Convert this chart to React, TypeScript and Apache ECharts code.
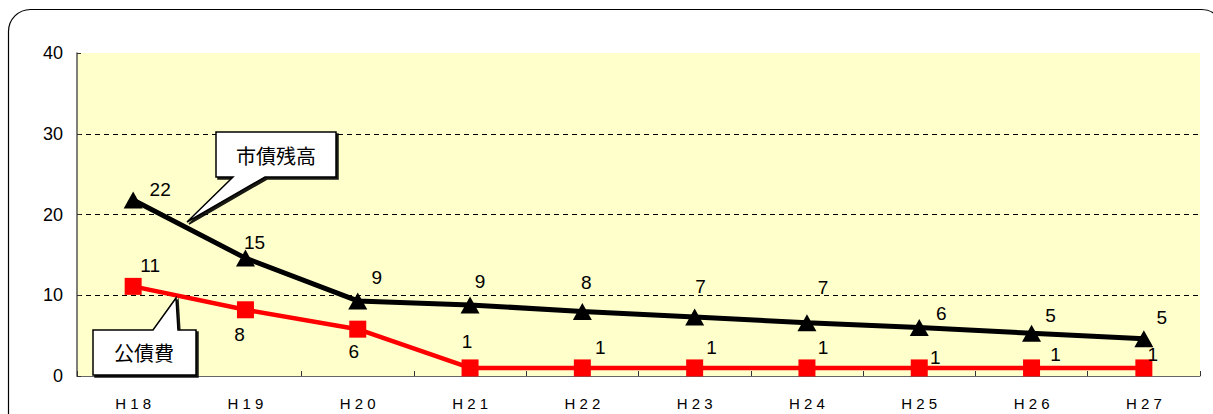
import React, { useEffect, useRef } from "react";
import * as echarts from "echarts";

const categories = ["H18", "H19", "H20", "H21", "H22", "H23", "H24", "H25", "H26", "H27"];
const debtBalance = [21.8, 14.6, 9.3, 8.8, 8.0, 7.3, 6.6, 6.0, 5.3, 4.6];
const debtService = [11.1, 8.2, 5.8, 1.0, 1.0, 1.0, 1.0, 1.0, 1.0, 1.0];
const yTicks = [0, 10, 20, 30, 40];
const balanceName = "市債残高";
const serviceName = "公債費";

// label offsets (style only)
const balanceOffsets: [number, number][] = [
  [27, -10], [9, -16], [19, -23], [10, -23], [4, -29], [6, -31], [16, -35], [22, -14], [19, -18], [18, -21],
];
const serviceOffsets: [number, number][] = [
  [17, -21], [-6, 25], [-4, 22], [-3, -26], [18, -20], [17, -20], [16, -20], [16, -10], [24, -13], [9, -13],
];

export default function App() {
  const ref = useRef<HTMLDivElement>(null);
  useEffect(() => {
    if (!ref.current) return;
    const chart = echarts.init(ref.current, null, { renderer: "svg" });
    const labelBase = {
      show: true,
      position: "inside",
      color: "#000",
      fontSize: 19,
      fontFamily: "Liberation Sans",
      formatter: (p: any) => String(Math.round(p.value)),
    };
    chart.setOption({
      animation: false,
      backgroundColor: "#fff",
      grid: { left: 77, right: 13, top: 53, bottom: 38, containLabel: false, show: true, backgroundColor: "#FFFFCC", borderWidth: 0 },
      xAxis: {
        type: "category",
        data: categories,
        boundaryGap: true,
        axisLine: { show: true, lineStyle: { color: "#666", width: 1 } },
        axisTick: { show: true, inside: true, length: 5, alignWithLabel: false, lineStyle: { color: "#333" } },
        axisLabel: {
          color: "#000",
          fontSize: 15,
          margin: 20,
          fontFamily: "Liberation Sans",
          formatter: (v: string) => v.split("").join(" "),
        },
        splitLine: { show: false },
      },
      yAxis: {
        type: "value",
        min: yTicks[0],
        max: yTicks[yTicks.length - 1],
        interval: 10,
        axisLine: { show: true, lineStyle: { color: "#555", width: 1.5 } },
        axisTick: { show: true, inside: true, length: 4, lineStyle: { color: "#333" } },
        axisLabel: { color: "#000", fontSize: 18, margin: 14, fontFamily: "Liberation Sans" },
        splitLine: {
          show: true,
          showMinLine: false,
          showMaxLine: false,
          lineStyle: { color: "#000", type: [5, 4], width: 1 },
        },
      },
      series: [
        {
          name: balanceName,
          type: "line",
          data: debtBalance.map((v, i) => ({ value: v, label: { offset: balanceOffsets[i] } })),
          symbol: "triangle",
          symbolSize: [19, 17],
          lineStyle: { color: "#000", width: 5 },
          itemStyle: { color: "#000" },
          label: labelBase,
          z: 3,
        },
        {
          name: serviceName,
          type: "line",
          data: debtService.map((v, i) => ({ value: v, label: { offset: serviceOffsets[i] } })),
          symbol: "rect",
          symbolSize: 17,
          lineStyle: { color: "#FF0000", width: 4.5 },
          itemStyle: { color: "#FF0000" },
          label: labelBase,
          z: 4,
        },
      ],
      graphic: [
        {
          type: "rect",
          shape: { x: 8.5, y: 9.5, width: 1215, height: 430, r: 22 },
          style: { fill: "none", stroke: "#000", lineWidth: 1.2 },
          silent: true,
          z: 0,
        },
        {
          type: "polygon",
          shape: {
            points: [[216, 132], [336, 132], [336, 177], [265, 177], [187, 222], [233, 177], [216, 177]],
          },
          style: { fill: "#fff", stroke: "#000", lineWidth: 1.5, shadowColor: "rgba(0,0,0,0.9)", shadowOffsetX: 2, shadowOffsetY: 2, shadowBlur: 0 },
          z: 10,
        },
        {
          type: "text",
          x: 276,
          y: 155,
          style: { text: balanceName, fontSize: 20, fill: "#000", align: "center", verticalAlign: "middle", fontFamily: "Noto Sans CJK JP" },
          z: 11,
        },
        {
          type: "polygon",
          shape: {
            points: [[93, 330], [153, 330], [176, 298], [178, 330], [196, 330], [196, 375], [93, 375]],
          },
          style: { fill: "#fff", stroke: "#000", lineWidth: 1.5, shadowColor: "rgba(0,0,0,0.9)", shadowOffsetX: 2, shadowOffsetY: 2, shadowBlur: 0 },
          z: 10,
        },
        {
          type: "text",
          x: 144,
          y: 352,
          style: { text: serviceName, fontSize: 20, fill: "#000", align: "center", verticalAlign: "middle", fontFamily: "Noto Sans CJK JP" },
          z: 11,
        },
      ],
    });
    return () => chart.dispose();
  }, []);
  return <div ref={ref} style={{ position: "fixed", left: 0, top: 0, width: 1213, height: 414 }} />;
}
